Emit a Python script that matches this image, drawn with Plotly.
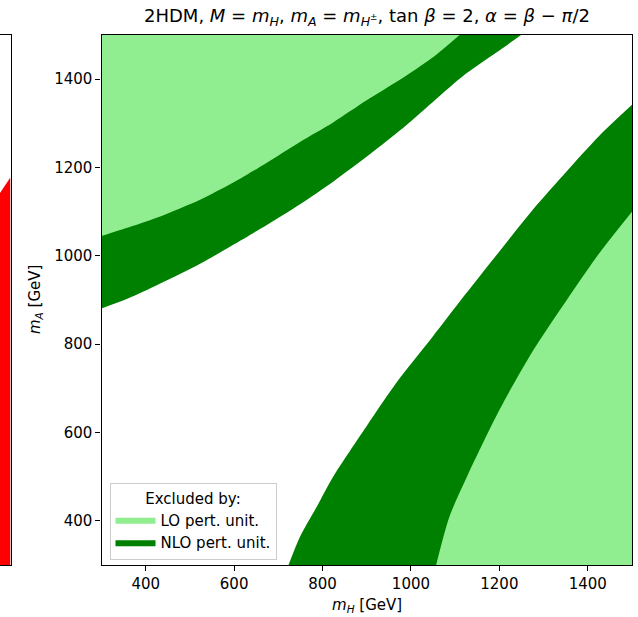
import plotly.graph_objects as go

# ---- data (m_H, m_A in GeV) ----
# upper-left region boundaries (excluded above these curves)
upper_lo_mH = [300, 372, 447, 523, 598, 674, 749, 824, 898, 974, 1049, 1110]
upper_lo_mA = [1045, 1068, 1095, 1127, 1166, 1211, 1258, 1302, 1351, 1398, 1449, 1500]
upper_nlo_mH = [300, 357, 447, 523, 598, 674, 749, 824, 898, 974, 1049, 1124, 1200, 1249]
upper_nlo_mA = [881, 902, 944, 982, 1025, 1070, 1117, 1168, 1223, 1283, 1348, 1412, 1465, 1500]
# lower-right region boundaries (excluded below/right of these curves)
lower_nlo_mH = [723, 749, 787, 824, 900, 974, 1049, 1113, 1200, 1276, 1351, 1426, 1500]
lower_nlo_mA = [300, 364, 432, 500, 615, 722, 817, 900, 1010, 1105, 1190, 1272, 1342]
lower_lo_mH = [1057, 1087, 1124, 1200, 1276, 1351, 1426, 1500]
lower_lo_mA = [300, 409, 494, 651, 785, 898, 1006, 1100]

# visible sliver of the neighbouring (left) panel
left_panel_x = [0, 1]
left_panel_top = [1142, 1178]

x_ticks = [400, 600, 800, 1000, 1200, 1400]
y_ticks = [400, 600, 800, 1000, 1200, 1400]
m_min, m_max = 300, 1500

LIGHT = "#90ee90"
DARK = "#008000"

fig = go.Figure()


def region(xs, ys, upper, color, name, show, rank):
    # frame path along the plot edges, then the boundary filled to it
    if upper:   # region above the curve: follow the top edge
        fx, fy = [xs[0], xs[-1]], [m_max, m_max]
    else:       # region below/right of the curve: bottom-right corner
        fx, fy = [xs[0], m_max, m_max], [m_min, m_min, ys[-1]]
    fig.add_trace(go.Scatter(
        x=fx, y=fy, mode="lines", line=dict(width=0, color=color),
        showlegend=False, hoverinfo="skip"))
    fig.add_trace(go.Scatter(
        x=xs, y=ys, mode="lines", fill="tonexty", fillcolor=color,
        line=dict(width=0, color=color, shape="spline", smoothing=0.8),
        name=name, legendgroup=name,
        showlegend=show, legendrank=rank, hoverinfo="skip"))


# NLO (dark) below, LO (light) on top
region(upper_nlo_mH, upper_nlo_mA, True, DARK, "NLO pert. unit.", True, 2)
region(lower_nlo_mH, lower_nlo_mA, False, DARK, "NLO pert. unit.", False, 2)
region(upper_lo_mH, upper_lo_mA, True, LIGHT, "LO pert. unit.", True, 1)
region(lower_lo_mH, lower_lo_mA, False, LIGHT, "LO pert. unit.", False, 1)

# left panel sliver
fig.add_trace(go.Scatter(
    x=left_panel_x + left_panel_x[::-1],
    y=left_panel_top + [m_min, m_min],
    mode="lines", fill="toself", fillcolor="#ff0000",
    line=dict(width=0, color="#ff0000"), showlegend=False,
    hoverinfo="skip", xaxis="x2", yaxis="y2"))

W, H = 638, 617
x0, x1 = 101.5 / W, 632 / W
y0, y1 = (H - 565) / H, (H - 35) / H

FONT = "DejaVu Sans"
axis_common = dict(
    showgrid=False, zeroline=False, showline=True, linecolor="black",
    linewidth=1.2, mirror=True, ticks="outside", ticklen=5, tickwidth=1.2,
    tickcolor="black", tickfont=dict(family=FONT, size=15, color="black"),
)

fig.update_layout(
    width=W, height=H,
    margin=dict(l=0, r=0, t=0, b=0, autoexpand=False),
    paper_bgcolor="white", plot_bgcolor="white",
    font=dict(family=FONT, color="black"),
    xaxis=dict(domain=[x0, x1], range=[m_min, m_max], tickvals=x_ticks,
               anchor="y", **axis_common),
    yaxis=dict(domain=[y0, y1], range=[m_min, m_max], tickvals=y_ticks,
               anchor="x", **axis_common),
    xaxis2=dict(domain=[0, 10.5 / W], range=[0, 1], showgrid=False,
                zeroline=False, showticklabels=False, ticks="",
                showline=True, mirror=True, linecolor="black",
                linewidth=1.2, anchor="y2"),
    yaxis2=dict(domain=[y0, y1], range=[m_min, m_max], showgrid=False,
                zeroline=False, showticklabels=False, ticks="",
                showline=True, side="right", linecolor="black",
                linewidth=1.2, anchor="x2"),
    legend=dict(
        x=109.5 / W, y=(H - 483) / H, xanchor="left", yanchor="top",
        bgcolor="rgba(255,255,255,0.8)", bordercolor="#cccccc", borderwidth=1,
        font=dict(family=FONT, size=15, color="black"),
        title=dict(text="Excluded by:", side="top center",
                   font=dict(family=FONT, size=15, color="black")),
        itemsizing="constant", itemwidth=40, tracegroupgap=0,
    ),
    annotations=[
        dict(text="2HDM, <i>M</i> = <i>m</i><sub><i>H</i></sub>, "
                  "<i>m</i><sub><i>A</i></sub> = <i>m</i><sub><i>H</i><sup>±</sup></sub>, "
                  "tan <i>β</i> = 2, <i>α</i> = <i>β</i> − <i>π</i>/2",
             x=(101.5 + 632) / 2 / W, y=(H - 17) / H, xref="paper", yref="paper",
             xanchor="center", yanchor="middle", showarrow=False,
             font=dict(family=FONT, size=18, color="black")),
        dict(text="<i>m</i><sub><i>H</i></sub> [GeV]",
             x=(101.5 + 632) / 2 / W, y=(H - 605) / H, xref="paper", yref="paper",
             xanchor="center", yanchor="middle", showarrow=False,
             font=dict(family=FONT, size=15, color="black")),
        dict(text="<i>m</i><sub><i>A</i></sub> [GeV]",
             x=35 / W, y=(H - 300) / H, xref="paper", yref="paper",
             xanchor="center", yanchor="middle", showarrow=False, textangle=-90,
             font=dict(family=FONT, size=15, color="black")),
    ],
)

fig.write_html(
    "out.html",
    config={"displayModeBar": False},
    post_script="document.body.style.margin='0';document.body.style.overflow='hidden';",
)
